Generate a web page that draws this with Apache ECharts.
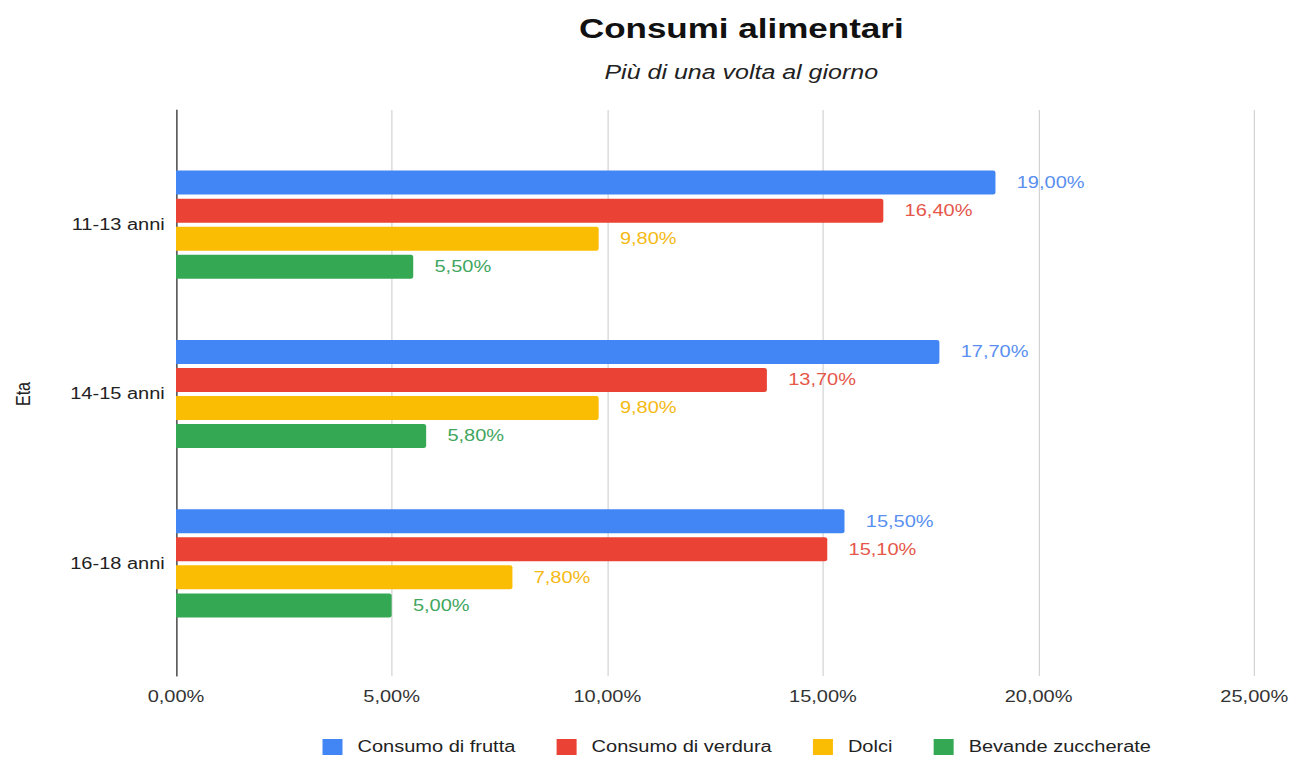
<!DOCTYPE html>
<html>
<head>
<meta charset="utf-8">
<script src="https://cdn.jsdelivr.net/npm/echarts@6/dist/echarts.min.js"></script>
<style>
html,body{margin:0;padding:0;background:#fff;overflow:hidden;}
/* the chart is laid out narrower and widened horizontally, giving its wide lettering */
#chart{width:1044.8px;height:760px;transform:scaleX(1.25);transform-origin:0 0;}
</style>
</head>
<body>
<div id="chart"></div>
<script>
const categories = ['11-13 anni', '14-15 anni', '16-18 anni'];
const seriesNames = ['Consumo di frutta', 'Consumo di verdura', 'Dolci', 'Bevande zuccherate'];
const frutta = [19.0, 17.7, 15.5];
const verdura = [16.4, 13.7, 15.1];
const dolci = [9.8, 9.8, 7.8];
const bevande = [5.5, 5.8, 5.0];
const xTicks = [0, 5, 10, 15, 20, 25];

const colors = ['#4285F4', '#EA4335', '#FBBC04', '#34A853'];
const labelColors = ['#5A8FF0', '#E5574A', '#F5B914', '#3FA65E'];
const values = [frutta, verdura, dolci, bevande];

const FONT = 'Liberation Sans, Arial, sans-serif';
const fmt = v => v.toFixed(2).replace('.', ',') + '%';
const xMin = xTicks[0], xMax = xTicks[xTicks.length - 1], xStep = xTicks[1] - xTicks[0];

const chart = echarts.init(document.getElementById('chart'), null, { renderer: 'svg' });
chart.setOption({
  animation: false,
  color: colors,
  title: [
    { text: 'Consumi alimentari', left: 588, top: 9, textAlign: 'center',
      textStyle: { fontFamily: FONT, fontWeight: 'bold', fontSize: 28, color: '#111' } },
    { text: 'Più di una volta al giorno', left: 588, top: 57, textAlign: 'center',
      textStyle: { fontFamily: FONT, fontStyle: 'italic', fontWeight: 'normal', fontSize: 20, color: '#222' } }
  ],
  legend: {
    data: seriesNames, top: 734, left: 253, itemWidth: 16, itemHeight: 16, itemGap: 33,
    icon: 'rect',
    textStyle: { fontFamily: FONT, fontSize: 16, color: '#222', padding: [0, 0, 0, 7] }
  },
  grid: [
    { left: 140.8, right: 41.6, top: 110, bottom: 84 },
    { left: 140.8, right: 41.6, top: 140, bottom: 112 }
  ],
  xAxis: [
    { gridIndex: 0, type: 'value', min: xMin, max: xMax, interval: xStep,
      axisLine: { show: false }, axisTick: { show: false },
      splitLine: { lineStyle: { color: '#d4d4d4', width: 1 } },
      axisLabel: { formatter: fmt, fontFamily: FONT, fontSize: 16, color: '#333', margin: 13 } },
    { gridIndex: 1, type: 'value', min: xMin, max: xMax, show: false }
  ],
  yAxis: [
    { gridIndex: 0, type: 'value', axisLabel: { show: false }, splitLine: { show: false },
      axisTick: { show: false }, axisLine: { show: true, lineStyle: { color: '#333', width: 1 } } },
    { gridIndex: 1, type: 'category', data: categories, inverse: true,
      name: 'Eta', nameLocation: 'middle', nameGap: 114, nameRotate: 90,
      nameTextStyle: { fontFamily: FONT, fontSize: 16, color: '#222' },
      axisLine: { show: false }, axisTick: { show: false },
      axisLabel: { fontFamily: FONT, fontSize: 16, color: '#222', margin: 9 } }
  ],
  series: seriesNames.map((name, i) => ({
    name, type: 'bar', xAxisIndex: 1, yAxisIndex: 1,
    data: values[i], barWidth: 24, barGap: '17%',
    itemStyle: { color: colors[i], borderRadius: [0, 2, 2, 0] },
    label: { show: true, position: 'right', distance: 17, formatter: p => fmt(p.value),
      fontFamily: FONT, fontSize: 16, color: labelColors[i] }
  }))
});
</script>
</body>
</html>
